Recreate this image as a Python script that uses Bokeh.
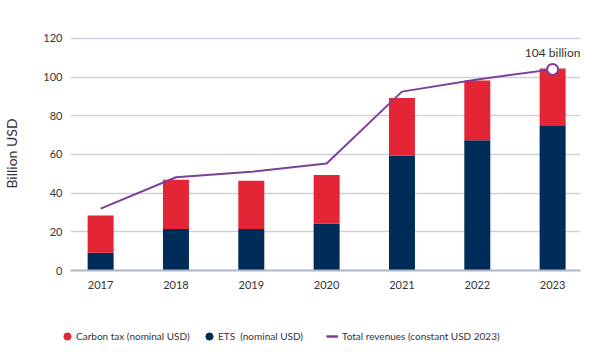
from bokeh.plotting import figure
from bokeh.models import Range1d, FixedTicker, Legend, LegendItem, ColumnDataSource
from bokeh.core.properties import value
from bokeh.embed import file_html
from bokeh.resources import INLINE

years = [2017, 2018, 2019, 2020, 2021, 2022, 2023]
year_labels = ["2017", "2018", "2019", "2020", "2021", "2022", "2023"]
ets_nominal = [9.2, 21.5, 21.5, 24.2, 59.4, 67.3, 75.1]
carbon_tax_nominal = [19.2, 25.4, 24.9, 25.2, 29.8, 30.9, 29.4]
total_constant_2023 = [32.0, 48.2, 51.0, 55.3, 92.5, 98.8, 104.0]
y_ticks = [0, 20, 40, 60, 80, 100, 120]
highlight_label = ["104 billion"]
legend_labels = ["Carbon tax (nominal USD)", "ETS  (nominal USD)", "Total revenues (constant USD 2023)"]

RED = "#E42536"
NAVY = "#002C5A"
PURPLE = "#7E3F98"
GRID = "#C9D1DC"
TEXT = "#333333"
FONT = "Lato"

p = figure(width=585, height=307, output_backend="svg", toolbar_location=None,
           x_range=Range1d(2016.6, 2023.37), y_range=Range1d(0, 121),
           min_border_left=70, min_border_right=5, min_border_top=36, min_border_bottom=37)
p.outline_line_color = None
p.background_fill_color = "white"

src = ColumnDataSource(dict(x=years, ets=ets_nominal, tax=carbon_tax_nominal))
p.vbar_stack(["ets", "tax"], x="x", width=0.345, source=src, color=[NAVY, RED], line_color=None)

p.line(years, total_constant_2023, color=PURPLE, line_width=2)
p.scatter([years[-1]], [total_constant_2023[-1]], size=11, fill_color="white",
          line_color=PURPLE, line_width=2)
p.text([years[-1]], [total_constant_2023[-1]], text=highlight_label, y_offset=-9,
       text_align="center", text_baseline="bottom", text_font=value(FONT),
       text_font_size="12px", text_color=TEXT)

# axes
p.xaxis.ticker = FixedTicker(ticks=years)
p.xaxis.major_label_overrides = {y: l for y, l in zip(years, year_labels)}
p.xaxis.axis_line_color = "#AEB7C3"
p.xaxis.axis_line_width = 2
p.xaxis.major_tick_line_color = None
p.xaxis.minor_tick_line_color = None
p.xaxis.major_tick_out = 0
p.xaxis.major_tick_in = 0
p.xaxis.minor_tick_out = 0
p.xaxis.major_label_standoff = 10
p.xaxis.major_label_text_font = FONT
p.xaxis.major_label_text_font_size = "11px"
p.xaxis.major_label_text_color = TEXT
p.xgrid.grid_line_color = None

p.yaxis.ticker = FixedTicker(ticks=y_ticks)
p.yaxis.axis_line_color = None
p.yaxis.major_tick_line_color = None
p.yaxis.minor_tick_line_color = None
p.yaxis.major_tick_out = 0
p.yaxis.major_tick_in = 0
p.yaxis.minor_tick_out = 0
p.yaxis.major_label_standoff = 8
p.yaxis.major_label_text_font = FONT
p.yaxis.major_label_text_font_size = "11px"
p.yaxis.major_label_text_color = TEXT
p.yaxis.axis_label = "Billion USD"
p.yaxis.axis_label_text_font = FONT
p.yaxis.axis_label_text_font_size = "14px"
p.yaxis.axis_label_text_font_style = "normal"
p.yaxis.axis_label_text_color = TEXT
p.yaxis.axis_label_standoff = 20
p.ygrid.grid_line_color = GRID
p.ygrid.grid_line_width = 1.5

# legend strip (separate root so its frame is not aligned with the chart)
pl = figure(width=585, height=40, output_backend="svg", toolbar_location=None,
            x_range=Range1d(0, 1), y_range=Range1d(0, 1),
            x_axis_type=None, y_axis_type=None,
            min_border_left=0, min_border_right=0, min_border_top=0, min_border_bottom=0)
pl.outline_line_color = None
pl.xgrid.visible = False
pl.ygrid.visible = False
nan = float("nan")
r_tax = pl.scatter([nan], [nan], marker="circle", color=RED)
r_ets = pl.scatter([nan], [nan], marker="circle", color=NAVY)
r_tot = pl.line([nan, nan], [nan, nan], color=PURPLE, line_width=2.5)

def mk_legend(label, rend, loc, gw, standoff):
    lg = Legend(items=[LegendItem(label=label, renderers=[rend])], location=loc,
                glyph_width=gw, glyph_height=18, label_standoff=standoff,
                padding=0, margin=0, border_line_color=None, background_fill_alpha=0,
                label_text_font=FONT, label_text_font_size="10px",
                label_text_color=TEXT, label_height=18)
    pl.add_layout(lg)

mk_legend(legend_labels[0], r_tax, (58, 2), 18, 0)
mk_legend(legend_labels[1], r_ets, (200, 2), 18, 0)
mk_legend(legend_labels[2], r_tot, (326, 2), 12, 4)

open("out.html", "w").write(file_html([p, pl], INLINE))
